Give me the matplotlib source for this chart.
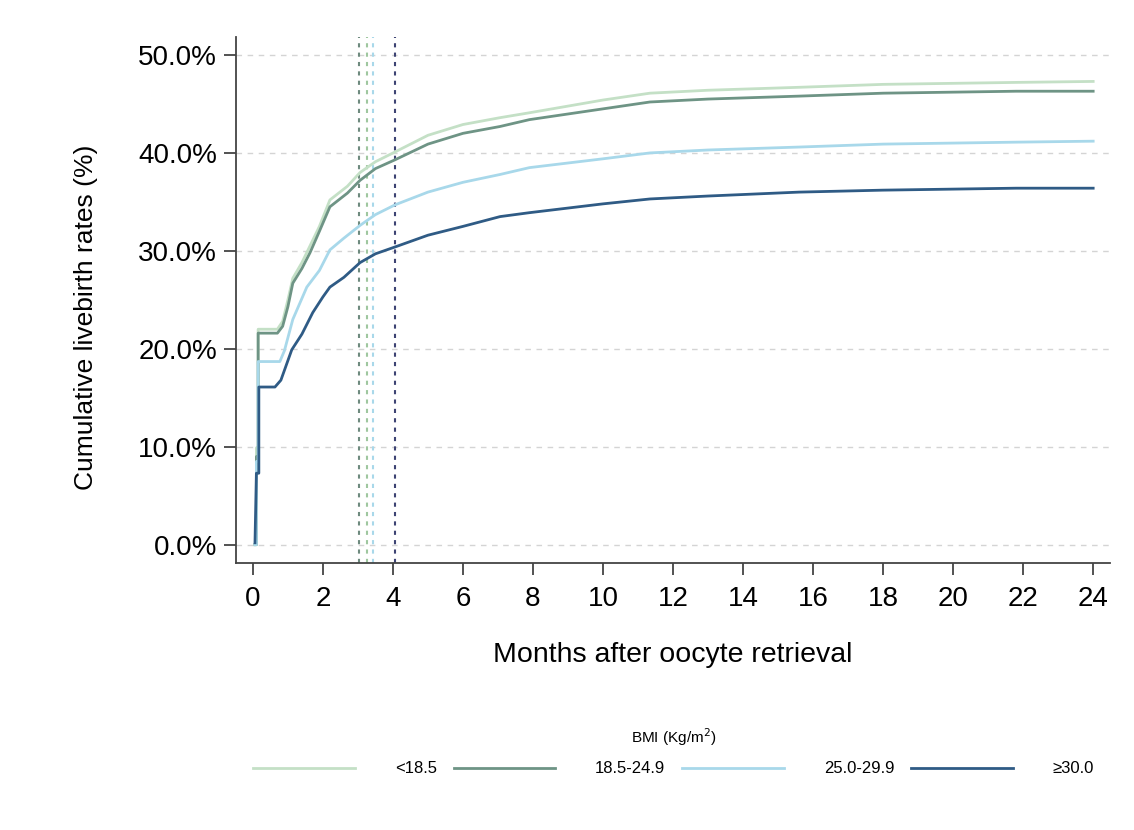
import matplotlib

matplotlib.use("Agg")
import matplotlib.pyplot as plt
from matplotlib.ticker import FuncFormatter

plt.rcParams["font.family"] = ["Liberation Sans", "DejaVu Sans"]

# Cumulative livebirth rate (%) by months after oocyte retrieval, per BMI group
groups = ["<18.5", "18.5-24.9", "25.0-29.9", "\u226530.0"]
colors = ["#c4e0c6", "#6e9485", "#a8d8ea", "#2f5b85"]
vline_colors = ["#9fc79f", "#6e8a7e", "#a8d8ea", "#3d4373"]

months_lt185 = [0.06, 0.1, 0.1, 0.15, 0.15, 0.7, 0.85, 1.0, 1.14, 1.4, 1.63, 1.9, 2.2, 2.7,
                3.06, 3.5, 4.06, 5, 6, 7.06, 7.9, 10, 11.34, 13, 15.6, 18, 21.8, 24]
rate_lt185 = [0, 0, 9.9, 9.9, 22.0, 22.0, 22.8, 25.0, 27.2, 28.8, 30.5, 32.5, 35.2, 36.6,
              38.0, 39.1, 40.1, 41.8, 42.9, 43.6, 44.1, 45.4, 46.1, 46.4, 46.7, 47.0, 47.2, 47.3]

months_normal = [0.06, 0.1, 0.1, 0.15, 0.15, 0.7, 0.85, 1.0, 1.14, 1.4, 1.63, 1.9, 2.2, 2.7,
                 3.06, 3.5, 4.06, 5, 6, 7.06, 7.9, 10, 11.34, 13, 15.6, 18, 21.8, 24]
rate_normal = [0, 0, 9.0, 9.0, 21.6, 21.6, 22.3, 24.3, 26.7, 28.2, 29.8, 32.0, 34.5, 35.9,
               37.2, 38.4, 39.3, 40.9, 42.0, 42.7, 43.4, 44.5, 45.2, 45.5, 45.8, 46.1, 46.3, 46.3]

months_over = [0.06, 0.1, 0.1, 0.15, 0.15, 0.77, 0.9, 1.14, 1.54, 1.9, 2.2, 2.6, 3.06, 3.5,
               4.06, 5, 6, 7.06, 7.9, 10, 11.34, 13, 15.6, 18, 21.8, 24]
rate_over = [0, 0, 8.5, 8.5, 18.7, 18.7, 19.8, 23.0, 26.3, 28.0, 30.1, 31.3, 32.6, 33.7,
             34.7, 36.0, 37.0, 37.8, 38.5, 39.4, 40.0, 40.3, 40.6, 40.9, 41.1, 41.2]

months_obese = [0.06, 0.1, 0.17, 0.17, 0.63, 0.8, 1.11, 1.4, 1.71, 2.0, 2.2, 2.6, 3.06, 3.5,
                4.06, 5, 6, 7.06, 7.9, 10, 11.34, 13, 15.6, 18, 21.8, 24]
rate_obese = [0.2, 7.3, 7.3, 16.1, 16.1, 16.8, 19.9, 21.5, 23.7, 25.3, 26.3, 27.3, 28.8, 29.7,
              30.4, 31.6, 32.5, 33.5, 33.9, 34.8, 35.3, 35.6, 36.0, 36.2, 36.4, 36.4]

# median time to livebirth per group (vertical reference lines)
medians = [3.25, 3.04, 3.44, 4.06]

series = [
    (months_lt185, rate_lt185),
    (months_normal, rate_normal),
    (months_over, rate_over),
    (months_obese, rate_obese),
]

fig = plt.figure(figsize=(11.34, 8.3), dpi=100)
ax = fig.add_axes([0.208, 0.322, 0.771, 0.633])

for yv in [0, 10, 20, 30, 40, 50]:
    ax.axhline(yv, color="#d4d4d4", lw=1.0, ls=(0, (4, 4)), zorder=0)

order = [1, 0, 2, 3]
for i in order:
    ax.axvline(medians[i], color=vline_colors[i], lw=1.5, ls=(0, (2, 2.5)), zorder=1)

lines = []
for (x, y), lab, c in zip(series, groups, colors):
    (ln,) = ax.plot(x, y, color=c, lw=2.0, label=lab, zorder=3)
    lines.append(ln)

ax.set_xlim(-0.486, 24.486)
ax.set_ylim(-1.84, 51.8)
ax.set_xticks(range(0, 25, 2))
ax.set_yticks([0, 10, 20, 30, 40, 50])
ax.yaxis.set_major_formatter(FuncFormatter(lambda v, p: f"{v:.1f}%"))
ax.tick_params(axis="both", labelsize=20, length=8.5, width=1.3, color="#444444")
ax.tick_params(axis="x", pad=8)
ax.tick_params(axis="y", pad=5)
for side in ["top", "right"]:
    ax.spines[side].set_visible(False)
for side in ["left", "bottom"]:
    ax.spines[side].set_linewidth(1.3)
    ax.spines[side].set_color("#444444")

ax.set_ylabel("Cumulative livebirth rates (%)", fontsize=19)
ax.yaxis.set_label_coords(-0.158, 0.468)
ax.set_xlabel("Months after oocyte retrieval", fontsize=20.5, labelpad=22)

leg = fig.legend(
    lines, groups,
    loc="center", bbox_to_anchor=(0.594, 0.095),
    ncol=4, frameon=False, fontsize=12,
    handlelength=6.1, handletextpad=2.4, columnspacing=1.0,
    title="BMI (Kg/m$^2$)", title_fontsize=11,
)
leg._legend_box.sep = 10

fig.savefig("out.png", dpi=100)
